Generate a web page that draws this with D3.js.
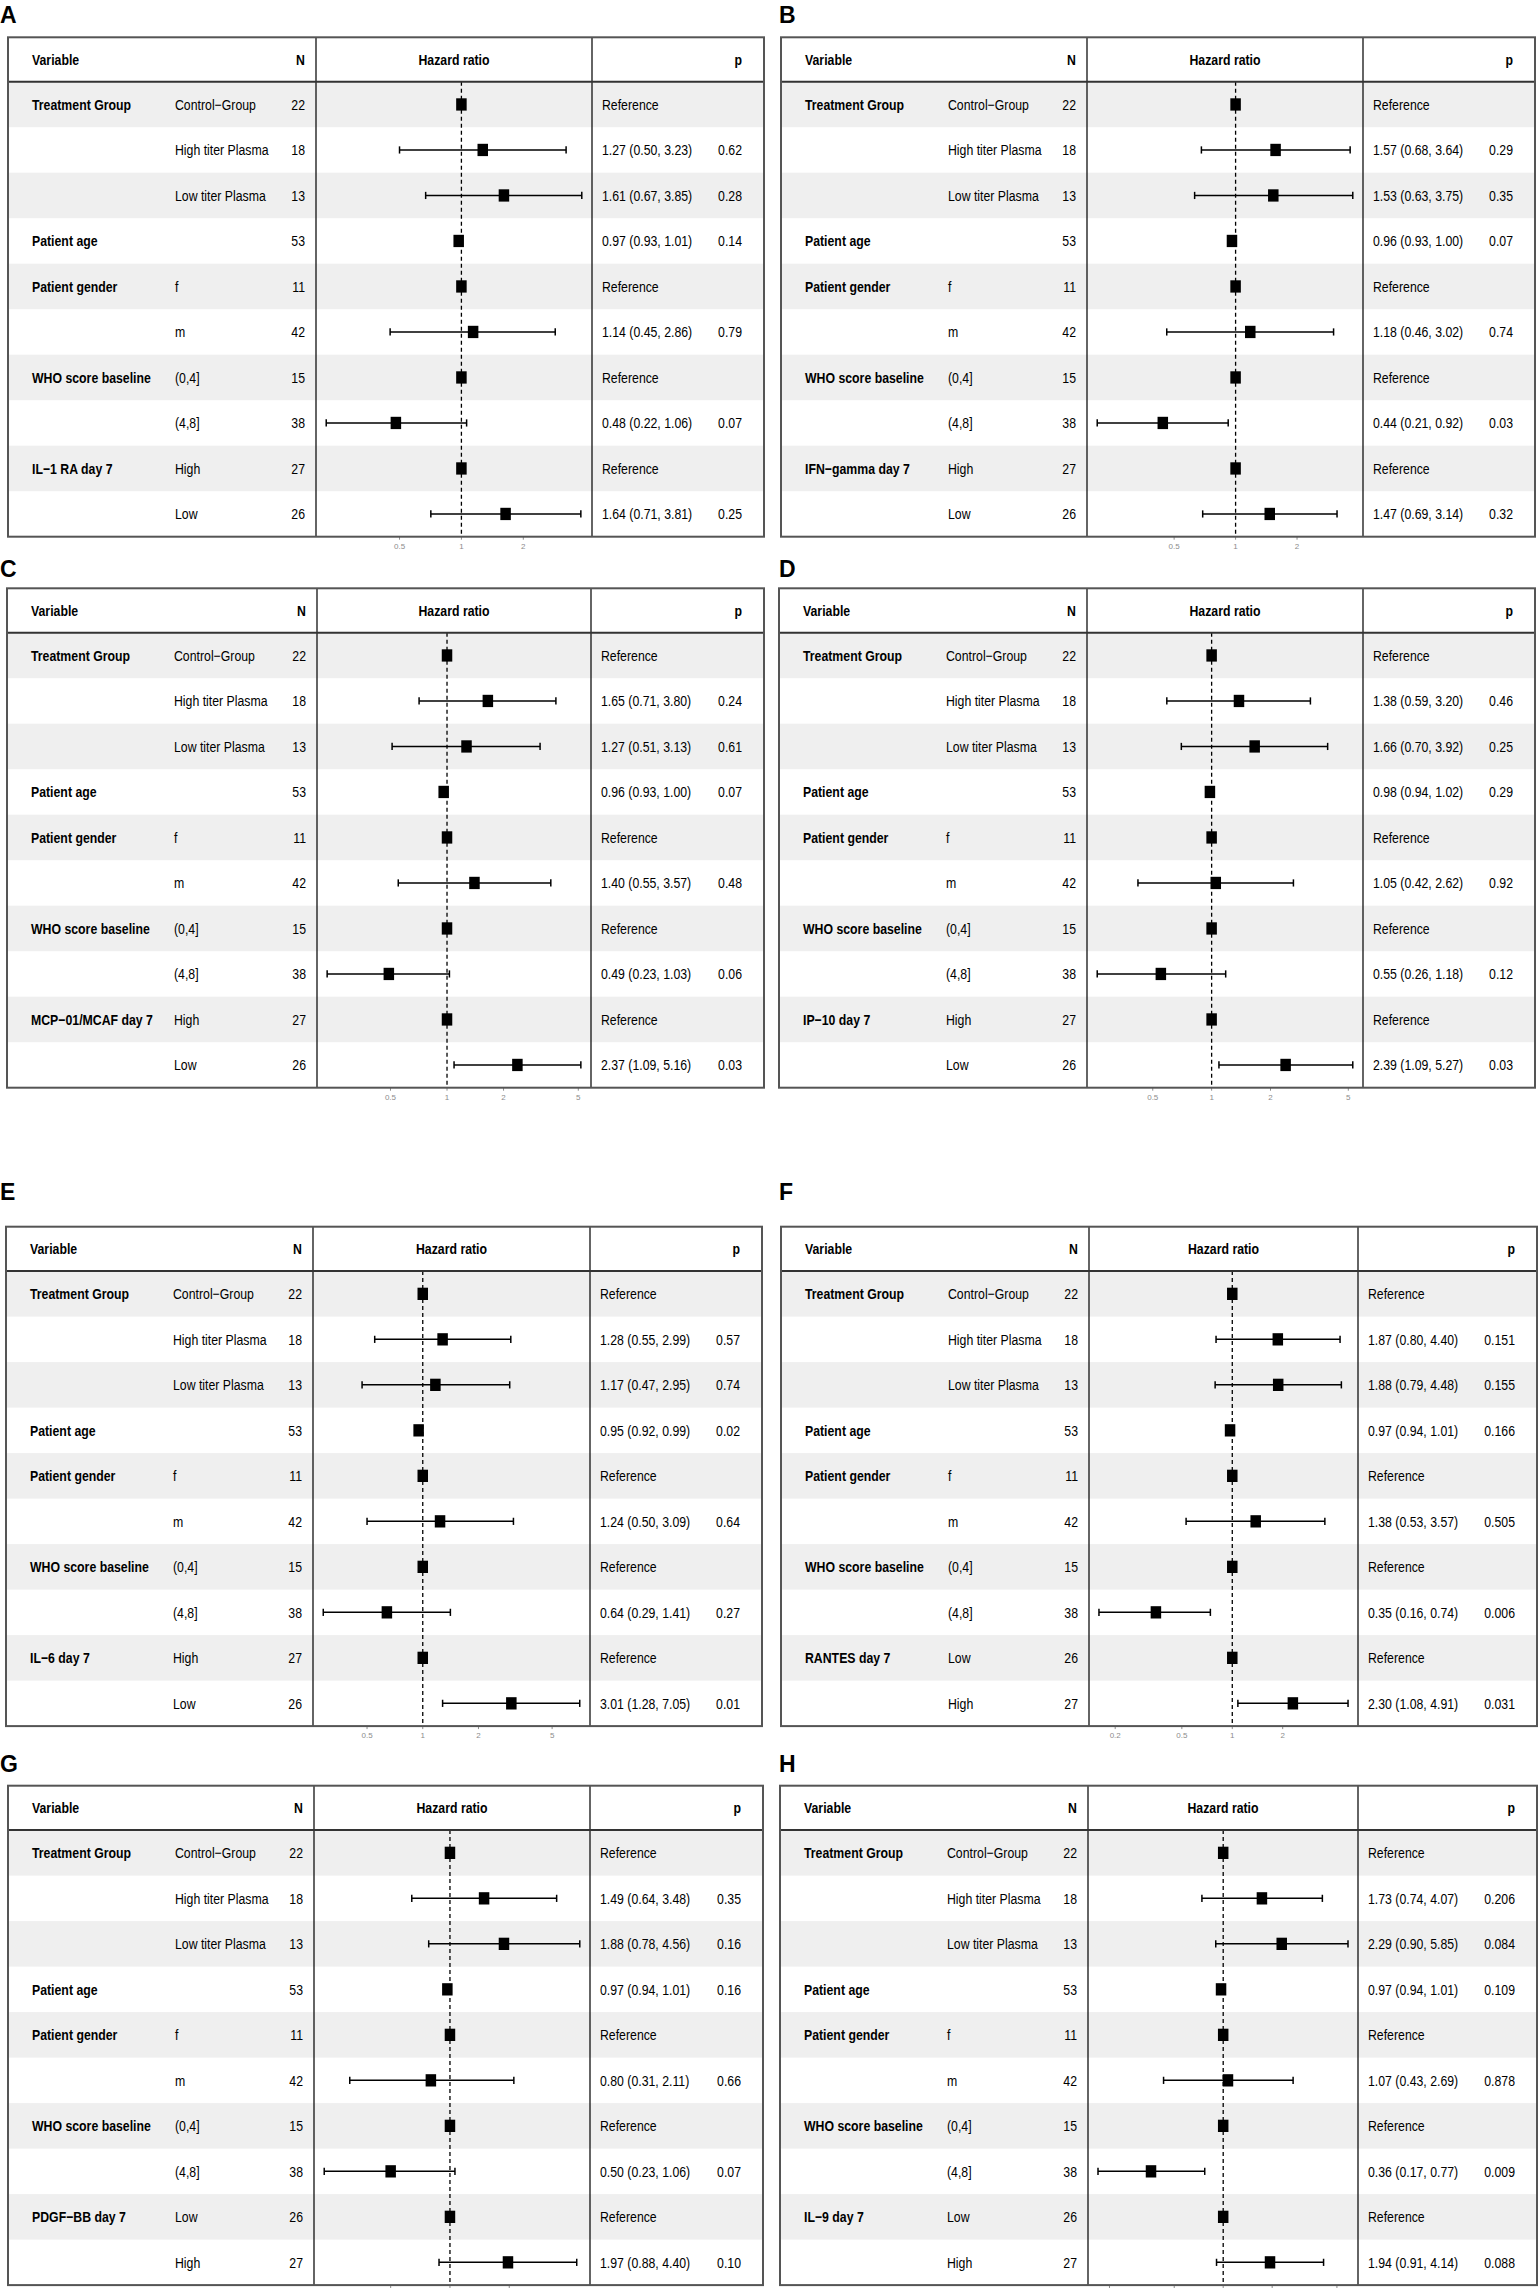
<!DOCTYPE html>
<html>
<head>
<meta charset="utf-8">
<script src="https://cdn.jsdelivr.net/npm/d3@7/dist/d3.min.js"></script>
<style>
  html, body { margin: 0; padding: 0; background: #ffffff; }
  svg { display: block; }
  text { font-family: "Liberation Sans", Arial, "DejaVu Sans", sans-serif; }
</style>
</head>
<body>
<svg id="chart" width="1540" height="2288"></svg>
<script>
// ---------------- DATA ----------------
const panelLetters = ["A", "B", "C", "D", "E", "F", "G", "H"];

const headerLabels = ["Variable", "N", "Hazard ratio", "p"];

// shared covariate rows
const baseVariables = ["Treatment Group", "", "", "Patient age", "Patient gender", "", "WHO score baseline", ""];
const baseLevels = ["Control\u2212Group", "High titer Plasma", "Low titer Plasma", "", "f", "m", "(0,4]", "(4,8]"];
const baseN = [22, 18, 13, 53, 11, 42, 15, 38];

// biomarker rows (per panel)
const biomarkers = ["IL\u22121 RA day 7", "IFN\u2212gamma day 7", "MCP\u221201/MCAF day 7", "IP\u221210 day 7",
                    "IL\u22126 day 7", "RANTES day 7", "PDGF\u2212BB day 7", "IL\u22129 day 7"];
const biomarkerLevels = [["High", "Low"], ["High", "Low"], ["High", "Low"], ["High", "Low"],
                         ["High", "Low"], ["Low", "High"], ["Low", "High"], ["Low", "High"]];
const biomarkerN = [[27, 26], [27, 26], [27, 26], [27, 26], [27, 26], [26, 27], [26, 27], [26, 27]];

// hazard ratios per panel, 10 rows each (null = reference level)
const hazardRatio = [
  [null, 1.27, 1.61, 0.97, null, 1.14, null, 0.48, null, 1.64],
  [null, 1.57, 1.53, 0.96, null, 1.18, null, 0.44, null, 1.47],
  [null, 1.65, 1.27, 0.96, null, 1.40, null, 0.49, null, 2.37],
  [null, 1.38, 1.66, 0.98, null, 1.05, null, 0.55, null, 2.39],
  [null, 1.28, 1.17, 0.95, null, 1.24, null, 0.64, null, 3.01],
  [null, 1.87, 1.88, 0.97, null, 1.38, null, 0.35, null, 2.30],
  [null, 1.49, 1.88, 0.97, null, 0.80, null, 0.50, null, 1.97],
  [null, 1.73, 2.29, 0.97, null, 1.07, null, 0.36, null, 1.94]
];
const ciLow = [
  [null, 0.50, 0.67, 0.93, null, 0.45, null, 0.22, null, 0.71],
  [null, 0.68, 0.63, 0.93, null, 0.46, null, 0.21, null, 0.69],
  [null, 0.71, 0.51, 0.93, null, 0.55, null, 0.23, null, 1.09],
  [null, 0.59, 0.70, 0.94, null, 0.42, null, 0.26, null, 1.09],
  [null, 0.55, 0.47, 0.92, null, 0.50, null, 0.29, null, 1.28],
  [null, 0.80, 0.79, 0.94, null, 0.53, null, 0.16, null, 1.08],
  [null, 0.64, 0.78, 0.94, null, 0.31, null, 0.23, null, 0.88],
  [null, 0.74, 0.90, 0.94, null, 0.43, null, 0.17, null, 0.91]
];
const ciHigh = [
  [null, 3.23, 3.85, 1.01, null, 2.86, null, 1.06, null, 3.81],
  [null, 3.64, 3.75, 1.00, null, 3.02, null, 0.92, null, 3.14],
  [null, 3.80, 3.13, 1.00, null, 3.57, null, 1.03, null, 5.16],
  [null, 3.20, 3.92, 1.02, null, 2.62, null, 1.18, null, 5.27],
  [null, 2.99, 2.95, 0.99, null, 3.09, null, 1.41, null, 7.05],
  [null, 4.40, 4.48, 1.01, null, 3.57, null, 0.74, null, 4.91],
  [null, 3.48, 4.56, 1.01, null, 2.11, null, 1.06, null, 4.40],
  [null, 4.07, 5.85, 1.01, null, 2.69, null, 0.77, null, 4.14]
];
const pValues = [
  ["", "0.62", "0.28", "0.14", "", "0.79", "", "0.07", "", "0.25"],
  ["", "0.29", "0.35", "0.07", "", "0.74", "", "0.03", "", "0.32"],
  ["", "0.24", "0.61", "0.07", "", "0.48", "", "0.06", "", "0.03"],
  ["", "0.46", "0.25", "0.29", "", "0.92", "", "0.12", "", "0.03"],
  ["", "0.57", "0.74", "0.02", "", "0.64", "", "0.27", "", "0.01"],
  ["", "0.151", "0.155", "0.166", "", "0.505", "", "0.006", "", "0.031"],
  ["", "0.35", "0.16", "0.16", "", "0.66", "", "0.07", "", "0.10"],
  ["", "0.206", "0.084", "0.109", "", "0.878", "", "0.009", "", "0.088"]
];
const tickValues = [
  [0.5, 1, 2], [0.5, 1, 2], [0.5, 1, 2, 5], [0.5, 1, 2, 5],
  [0.5, 1, 2, 5], [0.2, 0.5, 1, 2], [0.5, 1, 2], [0.2, 0.5, 1, 2, 5]
];

// ---------------- LAYOUT ----------------
// [left, sep1, sep2, right] and frame top per panel
const panelCols = [
  [8, 316, 592, 764], [781, 1087, 1363, 1535],
  [7, 317, 591, 764], [779, 1087, 1363, 1535],
  [6, 313, 590, 762], [781, 1089, 1358, 1537],
  [8, 314, 590, 763], [780, 1088, 1358, 1537]
];
const panelTops = [37.3, 37.3, 588.3, 588.3, 1226.7, 1226.7, 1785.7, 1785.7];
const letterBaselines = [23.3, 23.3, 576.7, 576.7, 1200, 1200, 1771.7, 1771.7];
const letterX = [0, 779, 0, 779, 0, 779, 0, 779];

const HEADER_H = 44.4, ROW_H = 45.5, NROWS = 10;
const SX = 0.82;       // horizontal compression of table text
const FS = 15;         // font size of table text
const SVG_H = 2288;

const svg = d3.select("#chart");
svg.append("rect").attr("width", 1540).attr("height", SVG_H).attr("fill", "#ffffff");

function txt(g, x, y, s, opts) {
  const o = Object.assign({anchor: "start", bold: false, size: FS, sx: SX, fill: "#000"}, opts || {});
  g.append("text")
    .attr("transform", `translate(${x},${y}) scale(${o.sx},1)`)
    .attr("text-anchor", o.anchor)
    .attr("dy", "0.35em")
    .attr("font-size", o.size)
    .attr("font-weight", o.bold ? "bold" : "normal")
    .attr("fill", o.fill)
    .text(s);
}

panelLetters.forEach((letter, pi) => {
  const [L, S1, S2, R] = panelCols[pi];
  const top = panelTops[pi];
  const hdrBottom = top + HEADER_H;
  const bottom = hdrBottom + ROW_H * NROWS;
  const g = svg.append("g");

  // panel letter
  g.append("text").attr("x", letterX[pi]).attr("y", letterBaselines[pi])
    .attr("font-size", 23).attr("font-weight", "bold").attr("fill", "#000").text(letter);

  // rows assembled
  const variables = baseVariables.concat([biomarkers[pi], ""]);
  const levels = baseLevels.concat(biomarkerLevels[pi]);
  const ns = baseN.concat(biomarkerN[pi]);
  const hr = hazardRatio[pi], lo = ciLow[pi], hi = ciHigh[pi], pv = pValues[pi];

  const rowY = d3.scaleBand().domain(d3.range(NROWS)).range([hdrBottom, bottom]).padding(0);

  // row shading
  g.selectAll("rect.shade").data(d3.range(NROWS).filter(i => i % 2 === 0)).enter()
    .append("rect").attr("class", "shade")
    .attr("x", L).attr("width", R - L)
    .attr("y", i => rowY(i)).attr("height", rowY.bandwidth())
    .attr("fill", "#efefef");

  // x scale (log) for hazard ratio
  const allLo = lo.filter(v => v != null).concat([1]);
  const allHi = hi.filter(v => v != null).concat([1]);
  const lmin = Math.log(d3.min(allLo)), lmax = Math.log(d3.max(allHi));
  const ext = (lmax - lmin) * 0.04;
  const x = d3.scaleLog().domain([Math.exp(lmin - ext), Math.exp(lmax + ext)]).range([S1, S2]);

  // dashed reference line at HR = 1
  g.append("line").attr("x1", x(1)).attr("x2", x(1)).attr("y1", hdrBottom).attr("y2", bottom)
    .attr("stroke", "#000").attr("stroke-width", 1.3).attr("stroke-dasharray", "4,3");

  // confidence intervals
  const ciRows = d3.range(NROWS).filter(i => hr[i] != null);
  ciRows.forEach(i => {
    const cy = rowY(i) + rowY.bandwidth() / 2;
    g.append("line").attr("x1", x(lo[i])).attr("x2", x(hi[i])).attr("y1", cy).attr("y2", cy)
      .attr("stroke", "#000").attr("stroke-width", 1.5);
    [lo[i], hi[i]].forEach(v => {
      g.append("line").attr("x1", x(v)).attr("x2", x(v)).attr("y1", cy - 3.6).attr("y2", cy + 3.6)
        .attr("stroke", "#000").attr("stroke-width", 1.5);
    });
  });

  // point estimates (squares)
  const SW = 10.5, SH = 12.3;
  g.selectAll("rect.pt").data(d3.range(NROWS)).enter().append("rect").attr("class", "pt")
    .attr("x", i => x(hr[i] == null ? 1 : hr[i]) - SW / 2)
    .attr("y", i => rowY(i) + rowY.bandwidth() / 2 - SH / 2)
    .attr("width", SW).attr("height", SH).attr("fill", "#000");

  // header texts
  const hy = top + HEADER_H / 2;
  txt(g, L + 24, hy, headerLabels[0], {bold: true});
  txt(g, S1 - 11, hy, headerLabels[1], {bold: true, anchor: "end"});
  txt(g, (S1 + S2) / 2, hy, headerLabels[2], {bold: true, anchor: "middle"});
  txt(g, R - 22, hy, headerLabels[3], {bold: true, anchor: "end"});

  // row texts
  d3.range(NROWS).forEach(i => {
    const cy = rowY(i) + rowY.bandwidth() / 2;
    if (variables[i]) txt(g, L + 24, cy, variables[i], {bold: true});
    if (levels[i]) txt(g, L + 167, cy, levels[i]);
    txt(g, S1 - 11, cy, String(ns[i]), {anchor: "end"});
    if (hr[i] == null) {
      txt(g, S2 + 10, cy, "Reference");
    } else {
      txt(g, S2 + 10, cy, `${hr[i].toFixed(2)} (${lo[i].toFixed(2)}, ${hi[i].toFixed(2)})`);
      txt(g, R - 22, cy, pv[i], {anchor: "end"});
    }
  });

  // axis ticks under the plot column
  tickValues[pi].forEach(t => {
    g.append("line").attr("x1", x(t)).attr("x2", x(t)).attr("y1", bottom).attr("y2", bottom + 3)
      .attr("stroke", "#8c8c8c").attr("stroke-width", 1);
    if (bottom + 14 < SVG_H) {
      g.append("text").attr("x", x(t)).attr("y", bottom + 9.5).attr("dy", "0.35em")
        .attr("text-anchor", "middle").attr("font-size", 8).attr("fill", "#8c8c8c").text(String(t));
    }
  });

  // column separators
  [S1, S2].forEach(sx => {
    g.append("line").attr("x1", sx).attr("x2", sx).attr("y1", top).attr("y2", bottom)
      .attr("stroke", "#111").attr("stroke-width", 1.3);
  });
  // header underline
  g.append("line").attr("x1", L).attr("x2", R).attr("y1", hdrBottom).attr("y2", hdrBottom)
    .attr("stroke", "#333").attr("stroke-width", 2);
  // outer frame
  g.append("rect").attr("x", L).attr("y", top).attr("width", R - L).attr("height", bottom - top)
    .attr("fill", "none").attr("stroke", "#555").attr("stroke-width", 2);
});
</script>
</body>
</html>
